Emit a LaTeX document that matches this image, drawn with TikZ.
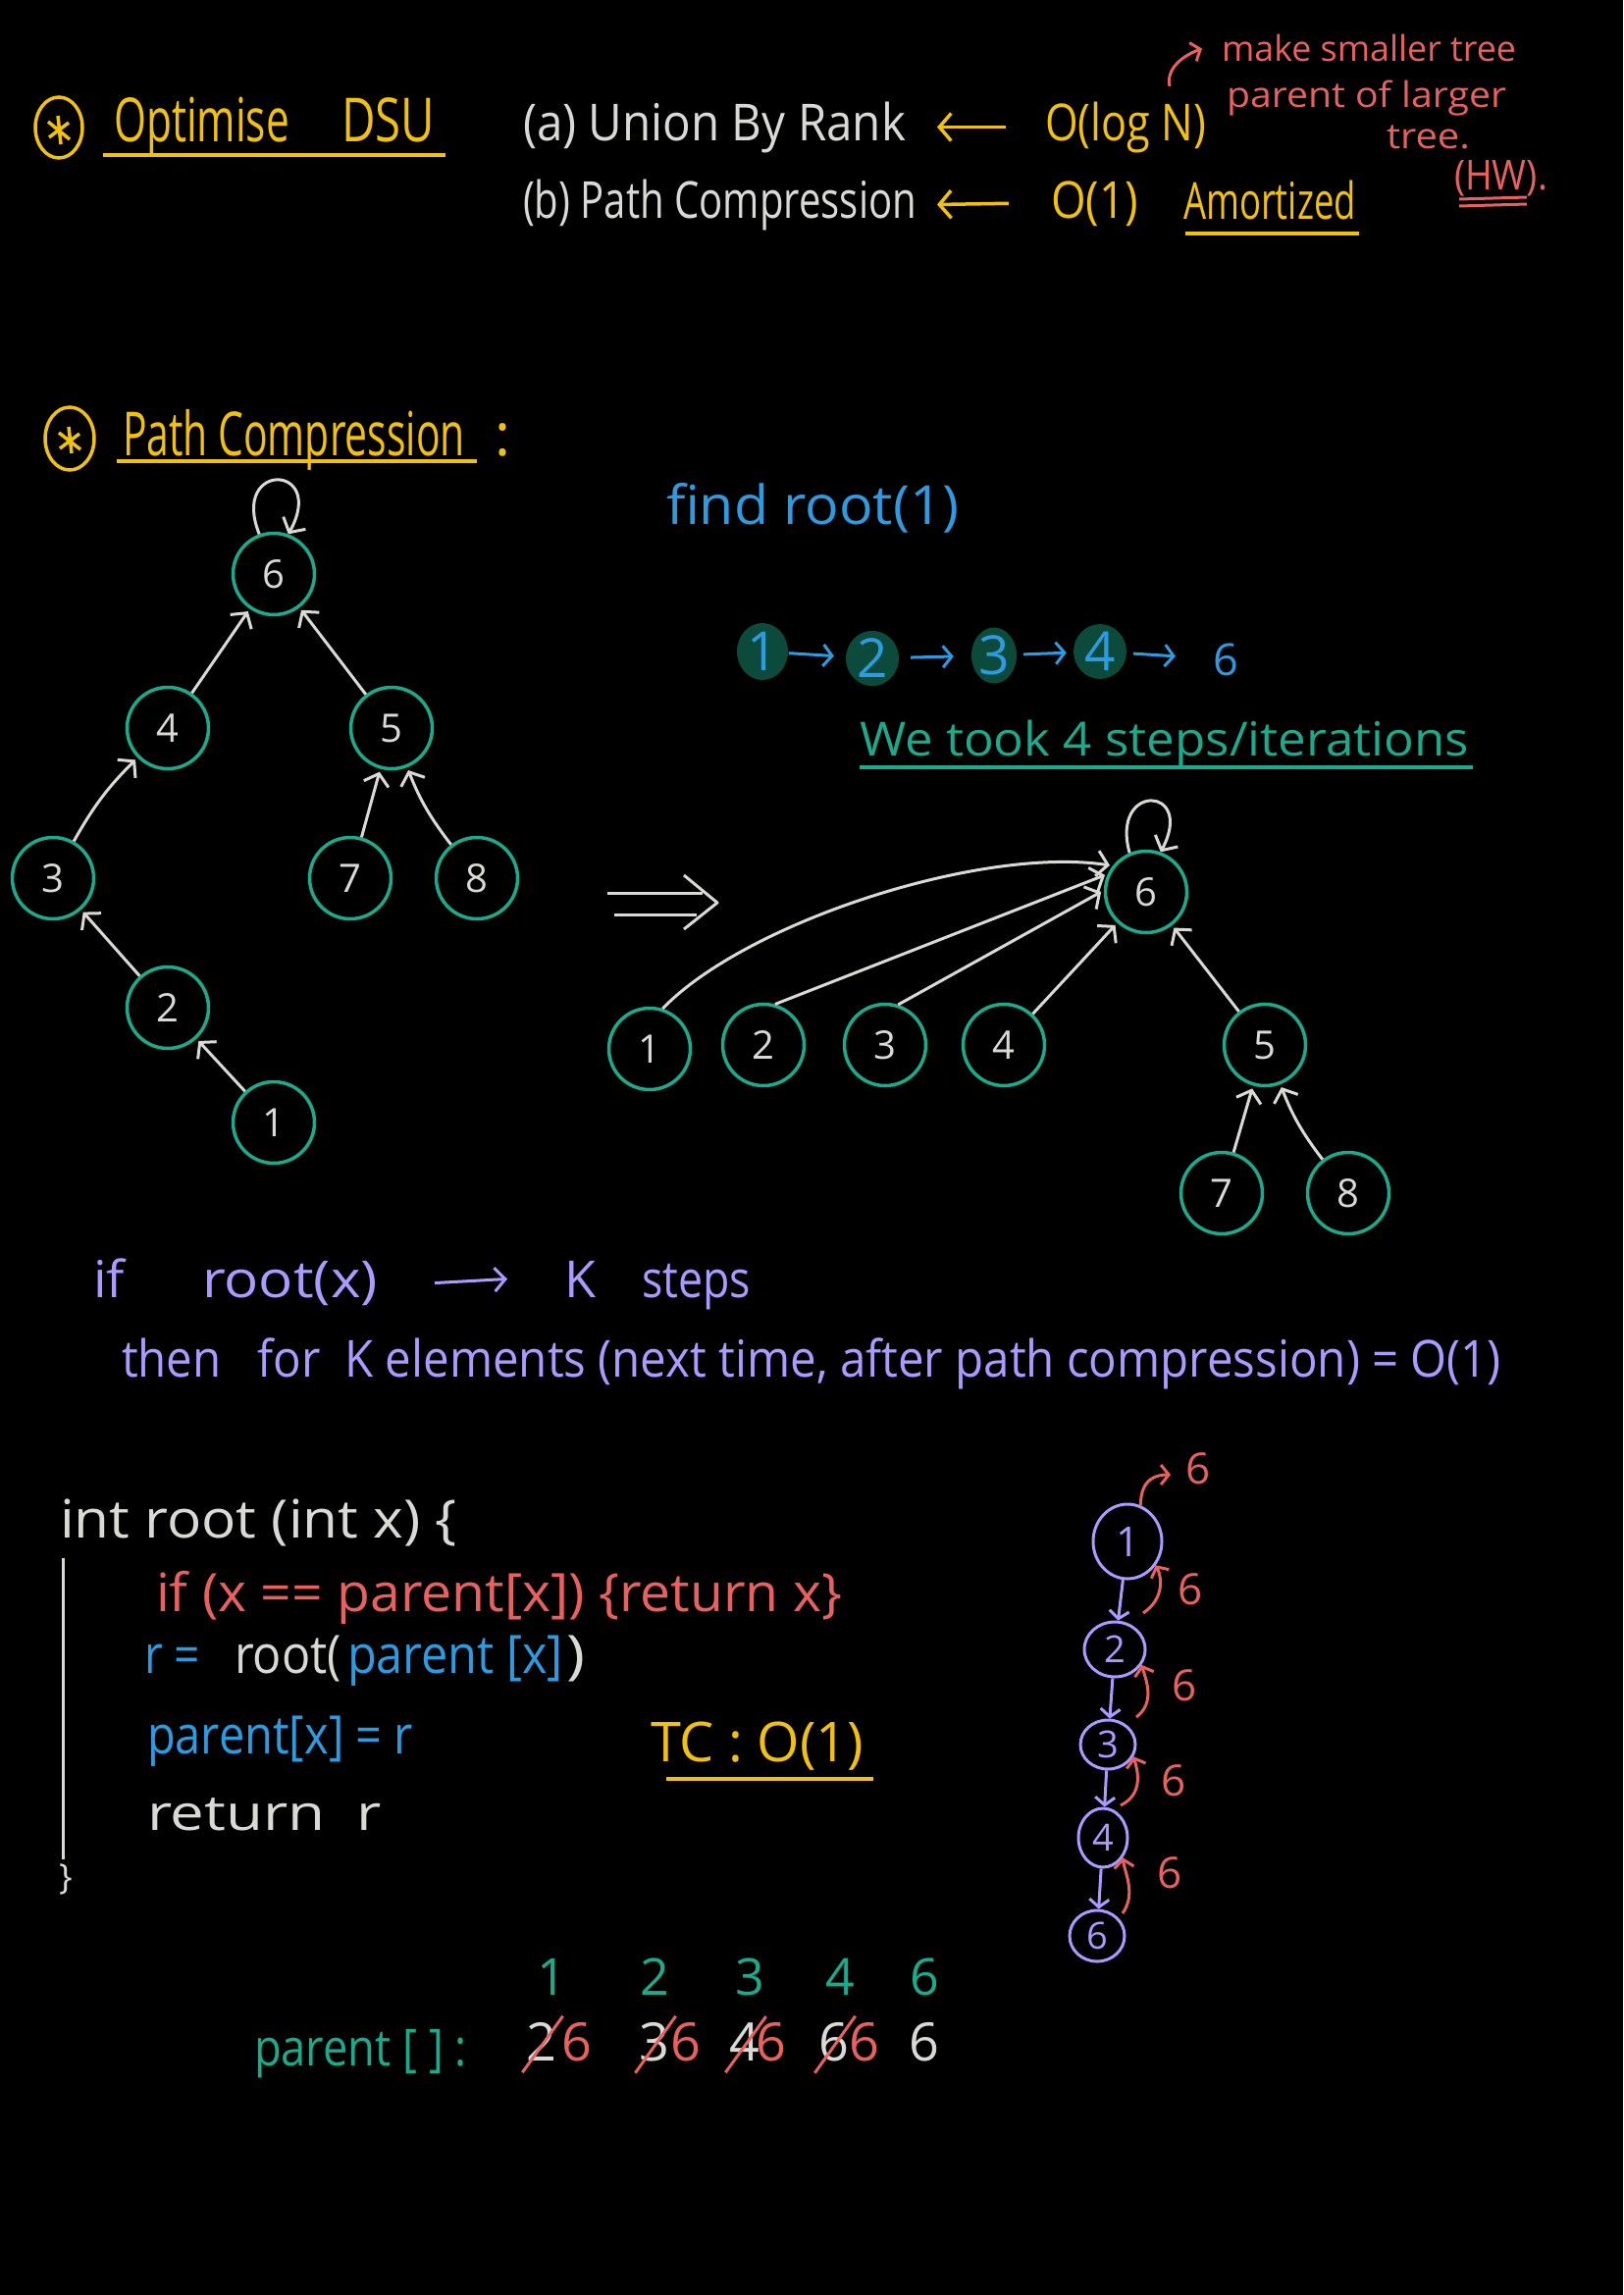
\documentclass[tikz,border=0pt]{standalone}
\usepackage{fontspec}
\setmainfont{Open Sans}
\usepackage{graphicx}
\usetikzlibrary{arrows.meta,shapes.geometric}
\definecolor{yel}{HTML}{F2C10E}
\definecolor{wht}{HTML}{D9D9D5}
\definecolor{tealc}{HTML}{1BAA8C}
\definecolor{bluec}{HTML}{2E9AE0}
\definecolor{redc}{HTML}{E8615E}
\definecolor{purc}{HTML}{A99BFF}
\definecolor{blobc}{HTML}{0C4A3C}
\newcommand\fw[2]{\resizebox{#1pt}{\height}{#2}}
\begin{document}
\begin{tikzpicture}[x=1pt,y=-1pt,
  lbl/.style={inner sep=0pt,outer sep=0pt,anchor=base west},
  fs/.style={font=\fontsize{#1}{#1}\selectfont},
  tnode/.style={circle,draw=tealc,line width=3.5pt,minimum size=83pt,inner sep=0pt,text=wht,fs=40},
  edge/.style={draw=wht,line width=3pt,-{Straight Barb[length=11pt,width=26pt]},shorten >=3pt},
  yarr/.style={draw=yel,line width=3.5pt,-{Straight Barb[length=12pt,width=28pt]}},
  barr/.style={draw=bluec,line width=3pt,-{Straight Barb[length=9pt,width=22pt]}},
  parr/.style={draw=purc,line width=3pt,-{Straight Barb[length=11pt,width=24pt]}},
  parr2/.style={draw=purc,line width=3pt,-{Straight Barb[length=8pt,width=20pt]}},
  rarr/.style={draw=redc,line width=3pt,-{Straight Barb[length=8pt,width=20pt]}},
  uline/.style={line width=4pt},
  blob/.style={ellipse,fill=blobc,inner sep=0pt,text=bluec,fs=55},
  pn/.style={ellipse,draw=purc,line width=3pt,inner sep=0pt,text=purc},
  strike/.style={draw=redc,line width=3pt},
  star/.style={ellipse,draw=yel,line width=3.5pt,inner sep=0pt,minimum width=48pt,minimum height=62pt}
]
\fill[black] (0,0) rectangle (1654,2339);
\useasboundingbox (0,0) rectangle (1654,2339);

% ---------- heading ----------
\node[star] (star1) at (60,130) {};
\draw[yel,line width=3.5pt] (59,118) -- (62,147) (49,124) -- (71,142) (50,140) -- (70,125);
\node[lbl,text=yel,fs=62] (opt) at (116,145) {\fw{179}{Optimise}};
\node[lbl,text=yel,fs=62] (dsu) at (348,145) {\fw{95}{DSU}};
\draw[yel,uline] (105,158) -- (454,158);

\node[lbl,text=wht,fs=52] (ura) at (533,143) {\fw{390}{(a) Union By Rank}};
\node[lbl,text=yel,fs=52] (olog) at (1065,143) {\fw{164}{O(log N)}};
\draw[yarr] ([xshift=-40pt]olog.west) -- ([xshift=32pt]ura.east);

\node[lbl,text=wht,fs=52] (pcb) at (533,222) {\fw{401}{(b) Path Compression}};
\node[lbl,text=yel,fs=52] (o1a) at (1071,222) {\fw{89}{O(1)}};
\draw[yarr] ([xshift=-43pt]o1a.west) -- ([xshift=21pt]pcb.east);
\node[lbl,text=yel,fs=52] (amort) at (1206,223) {\fw{176}{Amortized}};
\draw[yel,uline] (1208,238) -- (1385,238);

\node[lbl,text=redc,fs=36] (mk1) at (1245,63) {\fw{300}{make smaller tree}};
\node[lbl,text=redc,fs=36] (mk2) at (1250,110) {\fw{285}{parent of larger}};
\node[lbl,text=redc,fs=36] (mk3) at (1413,152) {\fw{85}{tree.}};
\node[lbl,text=redc,fs=42] (hw) at (1482,193) {\fw{95}{(HW).}};
\draw[redc,line width=3pt] (1487,203) -- (1556,201) (1487,210) -- (1556,208);
\coordinate (ra0) at (1192,88);
\draw[rarr] (ra0) .. controls (1188,70) and (1205,57) .. ([xshift=-20pt]mk1.west);

% ---------- path compression heading ----------
\node[star,minimum height=64pt,minimum width=50pt] (star2) at (71,447) {};
\draw[yel,line width=3.5pt] (70,435) -- (73,462) (60,441) -- (82,458) (61,457) -- (81,442);
\node[lbl,text=yel,fs=62] (pc) at (125,464) {\fw{349}{Path Compression}};
\node[lbl,text=yel,fs=60] (colon) at (504,464) {:};
\draw[yel,uline] (119,470) -- (486,470);

% ---------- left tree ----------
\node[tnode] (L6) at (279,585) {6};
\node[tnode] (L4) at (171,742) {4};
\node[tnode] (L5) at (399,742) {5};
\node[tnode] (L3) at (54,895) {3};
\node[tnode] (L7) at (357,895) {7};
\node[tnode] (L8) at (486,895) {8};
\node[tnode] (L2) at (171,1027) {2};
\node[tnode] (L1) at (279,1144) {1};
\draw[edge] (L4) -- (L6);
\draw[edge] (L5) -- (L6);
\draw[edge] (L3) to[bend left=8] (L4);
\draw[edge] (L2) -- (L3);
\draw[edge] (L1) -- (L2);
\draw[edge] (L7) -- (L5);
\draw[edge] (L8) to[bend left=8] (L5);
\draw[edge,shorten >=0pt] (L6.110) .. controls +(-30,-75) and +(40,-72) .. (L6.70);

% ---------- find root ----------
\node[lbl,text=bluec,fs=55] (find) at (679,534) {\fw{298}{find root(1)}};
\node[blob,minimum width=52pt,minimum height=58pt] (C1) at (777,664) {1};
\node[blob,minimum width=54pt,minimum height=50pt] (C2) at (889,671) {2};
\node[blob,minimum width=46pt,minimum height=55pt] (C3) at (1013,668) {3};
\node[blob,minimum width=54pt,minimum height=53pt] (C4) at (1121,664) {4};
\node[text=bluec,fs=45,inner sep=0pt] (C6) at (1249,672) {6};
\draw[barr,shorten <=1pt,shorten >=12pt] (C1) -- (C2);
\draw[barr,shorten <=12pt,shorten >=18pt] (C2) -- (C3);
\draw[barr,shorten <=7pt,shorten >=7pt] (C3) -- (C4);
\draw[barr,shorten <=7pt,shorten >=38pt] (C4) -- (C6);

\node[lbl,text=tealc,fs=48] (took) at (876,770) {\fw{621}{We took 4 steps/iterations}};
\draw[tealc,uline] (876,782) -- (1501,782);

% implies arrow
\draw[wht,line width=3pt] (619,910) -- (716,910) (626,932) -- (710,932);
\draw[wht,line width=3pt,line join=round] (697,892) -- (731,920) -- (697,947);

% ---------- right tree ----------
\node[tnode] (R6) at (1168,909) {6};
\node[tnode] (R1) at (662,1069) {1};
\node[tnode] (R2) at (778,1065) {2};
\node[tnode] (R3) at (902,1065) {3};
\node[tnode] (R4) at (1023,1065) {4};
\node[tnode] (R5) at (1289,1065) {5};
\node[tnode] (R7) at (1245,1216) {7};
\node[tnode] (R8) at (1374,1216) {8};
\draw[edge] (R1.72) .. controls (760,940) and (1000,862) .. (R6.142);
\draw[edge] (R2.74) -- (R6.155);
\draw[edge] (R3.72) -- (R6.178);
\draw[edge] (R4) -- (R6);
\draw[edge] (R5) -- (R6);
\draw[edge] (R7) -- (R5);
\draw[edge] (R8) to[bend left=8] (R5);
\draw[edge,shorten >=0pt] (R6.113) .. controls +(-20,-72) and +(36,-68) .. (R6.70);

% ---------- amortized explanation ----------
\node[lbl,text=purc,fs=52] (pif) at (95,1322) {\fw{32}{if}};
\node[lbl,text=purc,fs=52] (prx) at (206,1322) {\fw{179}{root(x)}};
\node[lbl,text=purc,fs=52] (pk) at (575,1322) {\fw{32}{K}};
\node[lbl,text=purc,fs=52] (pst) at (654,1322) {\fw{111}{steps}};
\draw[parr] ([xshift=58pt]prx.east) -- ([xshift=-58pt]pk.west);
\node[lbl,text=purc,fs=52] (pthen) at (124,1403) {\fw{1406}{then\ \ \ for\ \ K elements (next time, after path compression) = O(1)}};

% ---------- code ----------
\node[lbl,text=wht,fs=54] (cl1) at (61,1567) {\fw{405}{int root (int x) \{}};
\draw[wht,line width=3pt] (64,1588) -- (64,1895);
\node[lbl,text=wht,fs=36] (cl6) at (60,1925) {\}};
\node[lbl,text=redc,fs=54] (cl2) at (159,1642) {\fw{699}{if (x == parent[x]) \{return x\}}};
\node[lbl,text=bluec,fs=54] (cl3a) at (147,1705) {\fw{57}{r =}};
\node[lbl,text=wht,fs=54] (cl3b) at (239,1705) {\fw{109}{root(}};
\node[lbl,text=bluec,fs=54] (cl3c) at (354,1705) {\fw{220}{parent [x]}};
\node[lbl,text=wht,fs=54] (cl3d) at (577,1705) {\fw{19}{)}};
\node[lbl,text=bluec,fs=54] (cl4) at (150,1787) {\fw{271}{parent[x] = r}};
\node[lbl,text=wht,fs=50] (cl5) at (150,1865) {\fw{239}{return\ \ r}};
\node[lbl,text=yel,fs=56] (tc) at (663,1795) {\fw{217}{TC : O(1)}};
\draw[yel,uline] (679,1813) -- (890,1813);

% ---------- recursion chain ----------
\node[pn,minimum width=70pt,minimum height=76pt,fs=42] (P1) at (1149,1571) {1};
\node[pn,minimum width=62pt,minimum height=56pt,fs=38] (P2) at (1136,1681) {2};
\node[pn,minimum width=56pt,minimum height=50pt,fs=38] (P3) at (1129,1778) {3};
\node[pn,minimum width=50pt,minimum height=60pt,fs=38] (P4) at (1124,1873) {4};
\node[pn,minimum width=56pt,minimum height=52pt,fs=38] (P6) at (1118,1973) {6};
\draw[parr2] (P1) -- (P2);
\draw[parr2] (P2) -- (P3);
\draw[parr2] (P3) -- (P4);
\draw[parr2] (P4) -- (P6);
\node[text=redc,fs=44,inner sep=0pt] (S1) at (1221,1497) {6};
\node[text=redc,fs=44,inner sep=0pt] (S2) at (1213,1620) {6};
\node[text=redc,fs=44,inner sep=0pt] (S3) at (1207,1718) {6};
\node[text=redc,fs=44,inner sep=0pt] (S4) at (1196,1815) {6};
\node[text=redc,fs=44,inner sep=0pt] (S5) at (1192,1909) {6};
\coordinate (e1) at (1193,1503);
\draw[rarr] (P1.70) .. controls +(0,-28) and +(-14,0) .. (e1);
\coordinate (b2) at (1165,1644);
\draw[rarr] (b2) .. controls +(22,-15) and +(6,12) .. (P1.-40);
\coordinate (b3) at (1158,1750);
\draw[rarr] (b3) .. controls +(20,-15) and +(4,14) .. (P2.-30);
\coordinate (b4) at (1142,1840);
\draw[rarr] (b4) .. controls +(24,-12) and +(4,14) .. (P3.-25);
\coordinate (b5) at (1144,1950);
\draw[rarr] (b5) .. controls +(14,-20) and +(2,16) .. (P4.-45);

% ---------- parent array ----------
\node[lbl,text=tealc,fs=52] (par) at (259,2105) {\fw{217}{parent [ ] :}};
\node[text=tealc,fs=52,anchor=base,inner sep=0pt] (i1) at (562,2033) {1};
\node[text=tealc,fs=52,anchor=base,inner sep=0pt] (i2) at (667,2033) {2};
\node[text=tealc,fs=52,anchor=base,inner sep=0pt] (i3) at (764,2033) {3};
\node[text=tealc,fs=52,anchor=base,inner sep=0pt] (i4) at (856,2033) {4};
\node[text=tealc,fs=52,anchor=base,inner sep=0pt] (i6) at (942,2033) {6};
\node[text=wht,fs=54,anchor=base,inner sep=0pt] (v1w) at (552,2100) {2};
\node[text=redc,fs=54,anchor=base,inner sep=0pt] (v1r) at (588,2100) {6};
\node[text=wht,fs=54,anchor=base,inner sep=0pt] (v2w) at (667,2100) {3};
\node[text=redc,fs=54,anchor=base,inner sep=0pt] (v2r) at (699,2100) {6};
\node[text=wht,fs=54,anchor=base,inner sep=0pt] (v3w) at (759,2100) {4};
\node[text=redc,fs=54,anchor=base,inner sep=0pt] (v3r) at (786,2100) {6};
\node[text=wht,fs=54,anchor=base,inner sep=0pt] (v4w) at (850,2100) {6};
\node[text=redc,fs=54,anchor=base,inner sep=0pt] (v4r) at (881,2100) {6};
\node[text=wht,fs=54,anchor=base,inner sep=0pt] (v5) at (942,2100) {6};
\draw[strike] ([shift={(-4,12)}]v1w.south west) -- ([shift={(6,-6)}]v1w.north east);
\draw[strike] ([shift={(-4,12)}]v2w.south west) -- ([shift={(6,-6)}]v2w.north east);
\draw[strike] ([shift={(-4,12)}]v3w.south west) -- ([shift={(6,-6)}]v3w.north east);
\draw[strike] ([shift={(-4,12)}]v4w.south west) -- ([shift={(6,-6)}]v4w.north east);
\end{tikzpicture}
\end{document}
